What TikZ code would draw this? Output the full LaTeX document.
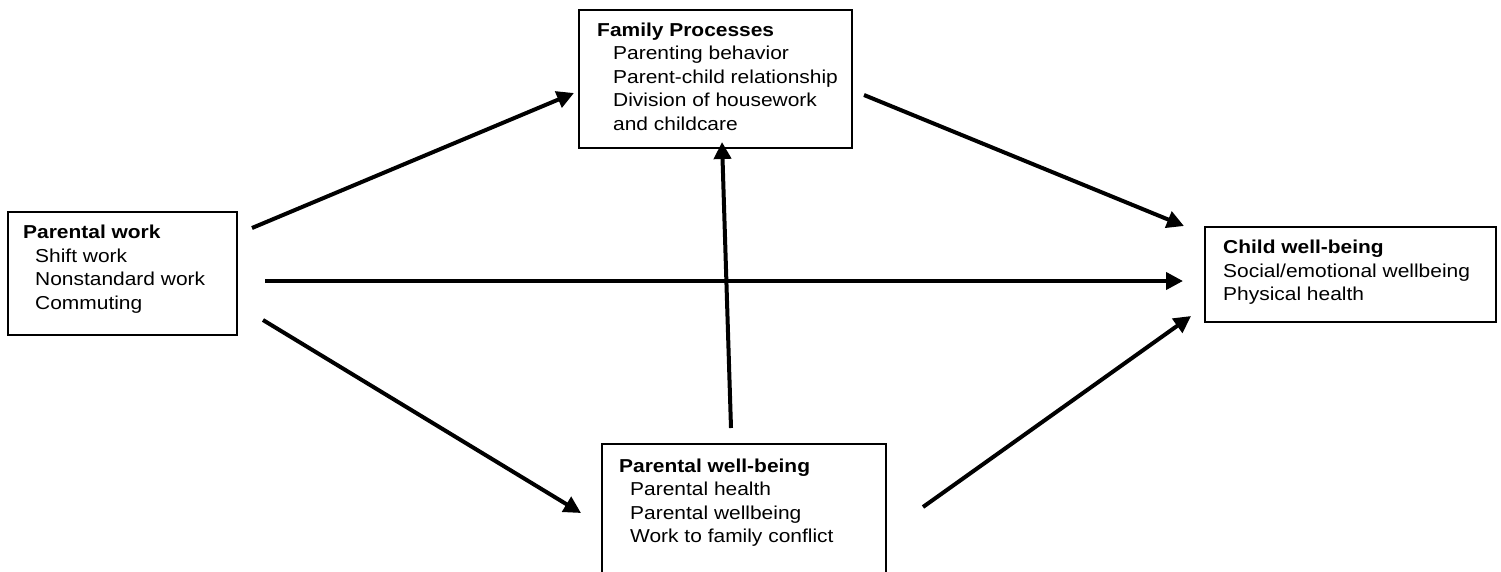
\documentclass[tikz,border=0pt]{standalone}
\usepackage{fontspec}
\setmainfont{Liberation Sans}[FakeStretch=1.12]
\usetikzlibrary{arrows.meta}
\tikzset{
  box/.style={draw=black, line width=1.4pt, inner sep=0pt},
  txt/.style={anchor=base west, inner sep=0pt, font=\fontsize{18.7}{23.5}\selectfont},
  hd/.style={txt, font=\fontsize{18.7}{23.5}\selectfont\bfseries},
  arr/.style={line width=4pt, -{Triangle[length=17pt,width=17pt]}}
}
\begin{document}
\begin{tikzpicture}[x=1pt,y=-1pt]
\useasboundingbox (0,0) rectangle (1501,571);
\clip (0,0) rectangle (1501,571);
% boxes
\node[box, minimum width=229pt, minimum height=123pt] (pw) at (122.5,273.5) {};
\node[box, minimum width=273pt, minimum height=138pt] (fp) at (715.5,79) {};
\node[box, minimum width=284pt, minimum height=140pt] (pwb) at (744,514) {};
\node[box, minimum width=291pt, minimum height=95pt] (cw) at (1350.5,274.5) {};
% texts
\node[hd] (pw0) at (23,238) {Parental work};
\node[txt] (pw1) at (35,262) {Shift work};
\node[txt] (pw2) at (35,285.5) {Nonstandard work};
\node[txt] (pw3) at (35,309) {Commuting};
\node[hd] (fp0) at (597,36) {Family Processes};
\node[txt] (fp1) at (613,59.5) {Parenting behavior};
\node[txt] (fp2) at (613,83) {Parent-child relationship};
\node[txt] (fp3) at (613,106.5) {Division of housework};
\node[txt] (fp4) at (613,130) {and childcare};
\node[hd] (pwb0) at (619,472) {Parental well-being};
\node[txt] (pwb1) at (630,495.5) {Parental health};
\node[txt] (pwb2) at (630,519) {Parental wellbeing};
\node[txt] (pwb3) at (630,542.5) {Work to family conflict};
\node[hd] (cw0) at (1223,253) {Child well-being};
\node[txt] (cw1) at (1223,277) {Social/emotional wellbeing};
\node[txt] (cw2) at (1223,300.5) {Physical health};
% arrow end points
\coordinate (a1s) at (252,228);  \coordinate (a1e) at (574,93);
\coordinate (a2s) at (864,95);   \coordinate (a2e) at (1184,226);
\coordinate (a3s) at (265,281);  \coordinate (a3e) at (1183,281);
\coordinate (a4s) at (263,320);  \coordinate (a4e) at (581,513);
\coordinate (a5s) at (923,507);  \coordinate (a5e) at (1191,316);
\coordinate (a6s) at (731,428);  \coordinate (a6e) at (722,142);
\draw[arr] (a1s) -- (a1e);
\draw[arr] (a2s) -- (a2e);
\draw[arr] (a3s) -- (a3e);
\draw[arr] (a4s) -- (a4e);
\draw[arr] (a5s) -- (a5e);
\draw[arr] (a6s) -- (a6e);
\end{tikzpicture}
\end{document}
